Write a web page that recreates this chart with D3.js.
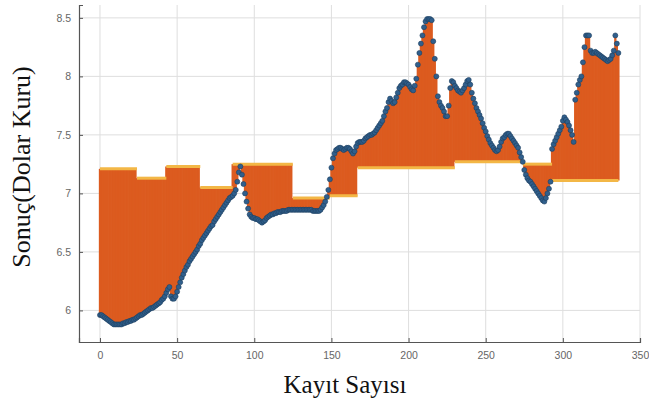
<!DOCTYPE html>
<html>
<head>
<meta charset="utf-8">
<script src="https://cdn.jsdelivr.net/npm/d3@7"></script>
<style>
  body { margin: 0; background: #ffffff; }
</style>
</head>
<body>
<div id="vis"></div>
<script>
// Gerçek dolar kuru (her kayıt için bir değer, kayıt 0..336)
const dolarKuru = [
  5.96, 5.96, 5.95, 5.94, 5.93, 5.92, 5.91, 5.90, 5.89, 5.88,
  5.88, 5.88, 5.88, 5.88, 5.88, 5.89, 5.89, 5.90, 5.90, 5.91,
  5.91, 5.92, 5.92, 5.93, 5.94, 5.95, 5.96, 5.96, 5.97, 5.98,
  5.99, 6.00, 6.01, 6.02, 6.02, 6.03, 6.04, 6.05, 6.06, 6.07,
  6.09, 6.10, 6.12, 6.15, 6.18, 6.20, 6.12, 6.10, 6.10, 6.12,
  6.16, 6.20, 6.24, 6.28, 6.31, 6.34, 6.37, 6.39, 6.42, 6.44,
  6.46, 6.48, 6.50, 6.52, 6.55, 6.57, 6.60, 6.62, 6.64, 6.66,
  6.68, 6.70, 6.72, 6.73, 6.76, 6.78, 6.80, 6.82, 6.84, 6.86,
  6.88, 6.90, 6.92, 6.94, 6.96, 6.97, 6.98, 7.00, 7.03, 7.10,
  7.18, 7.23, 7.16, 7.08, 7.00, 6.93, 6.87, 6.82, 6.80, 6.79,
  6.79, 6.78, 6.78, 6.77, 6.76, 6.75, 6.76, 6.77, 6.79, 6.80,
  6.81, 6.82, 6.82, 6.83, 6.83, 6.84, 6.84, 6.84, 6.85, 6.85,
  6.85, 6.85, 6.86, 6.86, 6.86, 6.86, 6.86, 6.86, 6.86, 6.86,
  6.86, 6.86, 6.86, 6.86, 6.86, 6.86, 6.86, 6.86, 6.85, 6.85,
  6.85, 6.85, 6.85, 6.86, 6.88, 6.90, 6.93, 6.97, 7.03, 7.12,
  7.22, 7.30, 7.34, 7.37, 7.38, 7.39, 7.39, 7.38, 7.37, 7.38,
  7.39, 7.39, 7.38, 7.36, 7.34, 7.36, 7.40, 7.43, 7.44, 7.44,
  7.44, 7.45, 7.47, 7.48, 7.49, 7.50, 7.50, 7.51, 7.52, 7.54,
  7.56, 7.58, 7.60, 7.62, 7.66, 7.70, 7.73, 7.78, 7.81, 7.79,
  7.77, 7.78, 7.82, 7.86, 7.90, 7.92, 7.93, 7.95, 7.95, 7.94,
  7.93, 7.91, 7.89, 7.88, 7.92, 7.98, 8.10, 8.20, 8.28, 8.35,
  8.42, 8.47, 8.49, 8.49, 8.49, 8.48, 8.30, 8.15, 8.00, 7.83,
  7.78, 7.75, 7.73, 7.70, 7.66, 7.66, 7.75, 7.90, 7.96, 7.95,
  7.92, 7.90, 7.88, 7.87, 7.86, 7.88, 7.90, 7.93, 7.96, 7.97,
  7.93, 7.86, 7.81, 7.77, 7.73, 7.70, 7.67, 7.64, 7.60, 7.56,
  7.53, 7.49, 7.46, 7.43, 7.41, 7.39, 7.37, 7.36, 7.37, 7.40,
  7.44, 7.47, 7.48, 7.50, 7.51, 7.51, 7.49, 7.47, 7.45, 7.43,
  7.41, 7.39, 7.35, 7.31, 7.27, 7.20, 7.16, 7.13, 7.11, 7.10,
  7.08, 7.06, 7.04, 7.02, 7.00, 6.98, 6.96, 6.94, 6.93, 6.96,
  7.00, 7.04, 7.10, 7.38, 7.42, 7.45, 7.48, 7.51, 7.54, 7.57,
  7.62, 7.65, 7.63, 7.61, 7.58, 7.54, 7.50, 7.44, 7.80, 7.86,
  7.93, 7.97, 8.00, 8.12, 8.25, 8.35, 8.35, 8.35, 8.22, 8.20,
  8.20, 8.21, 8.20, 8.19, 8.18, 8.17, 8.16, 8.15, 8.14, 8.13,
  8.14, 8.15, 8.18, 8.22, 8.35, 8.28, 8.20
];

// Tahmin (parça parça sabit): başlangıç kaydı, bitiş kaydı, değer
const tahminBas = [0, 24, 43, 65, 86, 125, 149, 167, 230, 274, 293];
const tahminSon = [24, 43, 65, 86, 125, 149, 167, 230, 274, 293, 336];
const tahminDeg = [7.21, 7.13, 7.23, 7.05, 7.25, 6.96, 6.98, 7.22, 7.27, 7.25, 7.11];

// Eksen etiketleri
const xTicks = [0, 50, 100, 150, 200, 250, 300, 350];
const yTicks = [6, 6.5, 7, 7.5, 8, 8.5];

const WIDTH = 649;
const HEIGHT = 401;
const SVG = d3
  .select("#vis")
  .append("svg")
  .attr("width", WIDTH)
  .attr("height", HEIGHT);

const margins = [79, 9, 5, 59]; // sol, sağ, üst, alt

// veriyi birleştir
const kayitlar = dolarKuru.map((v, i) => {
  let k = tahminBas.findIndex((b, j) => i >= b && (i < tahminSon[j] || j === tahminBas.length - 1));
  return { kayit: i, gercek: v, tahmin: tahminDeg[k] };
});

const escalaX = d3
  .scaleLinear()
  .domain([-13.6, 350])
  .range([margins[0], WIDTH - margins[1]]);

const escalaY = d3
  .scaleLinear()
  .domain([5.73, 8.61])
  .range([HEIGHT - margins[3], margins[2]]);

// grilla
const grid = SVG.append("g").attr("id", "grid");
grid.selectAll(".gx")
  .data(xTicks)
  .join("line")
  .attr("class", "gx")
  .attr("x1", d => escalaX(d))
  .attr("x2", d => escalaX(d))
  .attr("y1", margins[2])
  .attr("y2", HEIGHT - margins[3])
  .attr("stroke", "#dedede")
  .attr("stroke-width", 1);
grid.selectAll(".gy")
  .data(yTicks)
  .join("line")
  .attr("class", "gy")
  .attr("x1", margins[0])
  .attr("x2", WIDTH - margins[1])
  .attr("y1", d => escalaY(d))
  .attr("y2", d => escalaY(d))
  .attr("stroke", "#dedede")
  .attr("stroke-width", 1);

// farklar: her kayıt için tahmin ile gerçek arasında dikey çizgi
SVG.append("g")
  .attr("id", "stems")
  .selectAll("line")
  .data(kayitlar)
  .join("line")
  .attr("x1", d => escalaX(d.kayit))
  .attr("x2", d => escalaX(d.kayit))
  .attr("y1", d => escalaY(d.tahmin))
  .attr("y2", d => escalaY(d.gercek))
  .attr("stroke", "#dc5b1f")
  .attr("stroke-width", 2.3);

// tahmin basamakları
SVG.append("g")
  .attr("id", "tahmin")
  .selectAll("line")
  .data(tahminDeg)
  .join("line")
  .attr("x1", (d, i) => escalaX(tahminBas[i]))
  .attr("x2", (d, i) => escalaX(tahminSon[i]))
  .attr("y1", d => escalaY(d))
  .attr("y2", d => escalaY(d))
  .attr("stroke", "#f3b746")
  .attr("stroke-width", 3);

// gerçek değer noktaları
SVG.append("g")
  .attr("id", "puntos")
  .selectAll("circle")
  .data(kayitlar)
  .join("circle")
  .attr("cx", d => escalaX(d.kayit))
  .attr("cy", d => escalaY(d.gercek))
  .attr("r", 2.5)
  .attr("fill", "#305f8c")
  .attr("stroke", "#1f3f60")
  .attr("stroke-width", 0.6);

// ejes
const ejeX = d3.axisBottom(escalaX).tickValues(xTicks).tickSize(-4).tickPadding(10);
const ejeY = d3.axisLeft(escalaY).tickValues(yTicks).tickSize(-4).tickPadding(8)
  .tickFormat(d => d3.format("")(d));

SVG.append("g")
  .attr("id", "ejeX")
  .attr("transform", `translate(0,${HEIGHT - margins[3]})`)
  .call(ejeX);
SVG.append("g")
  .attr("id", "ejeY")
  .attr("transform", `translate(${margins[0]},0)`)
  .call(ejeY);

SVG.selectAll("#ejeX path, #ejeY path")
  .attr("stroke", "#555")
  .attr("stroke-width", 1.2);
SVG.selectAll("#ejeX line, #ejeY line").attr("stroke", "#555");
SVG.selectAll("#ejeX text, #ejeY text")
  .attr("fill", "#666")
  .attr("font-size", 10.5)
  .attr("font-family", "Liberation Sans, Arial, sans-serif");

// títulos
SVG.append("text")
  .attr("x", 345)
  .attr("y", 393)
  .attr("text-anchor", "middle")
  .attr("font-family", "Liberation Serif, Times New Roman, serif")
  .attr("font-size", 25)
  .attr("fill", "#111")
  .text("Kayıt Sayısı");

SVG.append("text")
  .attr("transform", "translate(30,167) rotate(-90)")
  .attr("text-anchor", "middle")
  .attr("font-family", "Liberation Serif, Times New Roman, serif")
  .attr("font-size", 26)
  .attr("fill", "#111")
  .text("Sonuç(Dolar Kuru)");
</script>
</body>
</html>
